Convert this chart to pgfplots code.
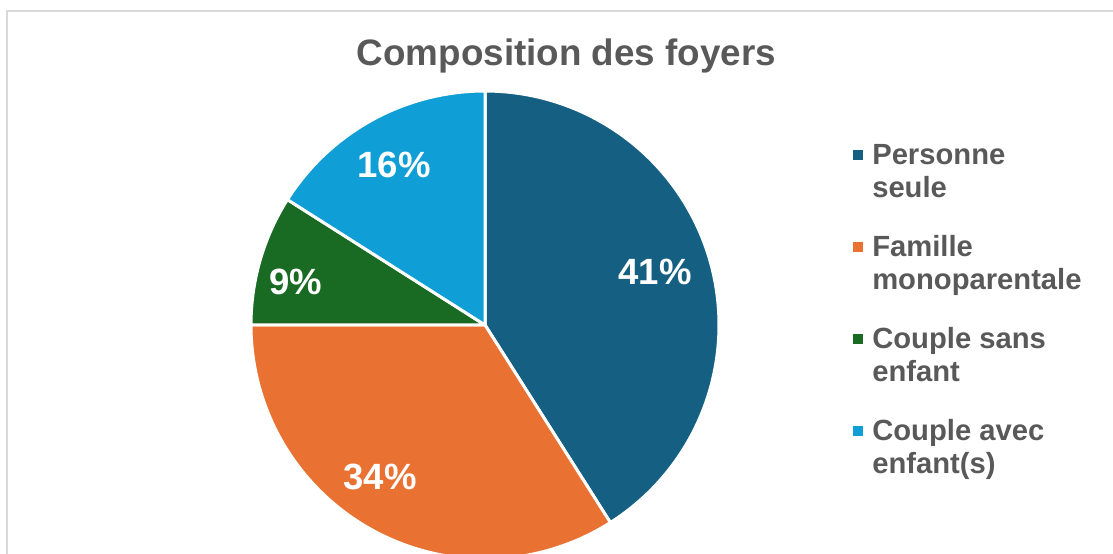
\documentclass[border=0pt]{standalone}
\usepackage{fontspec}
\setmainfont{Liberation Sans}
\usepackage{pgfplots}
\usepackage{pgfplotstable}
\pgfplotsset{compat=1.18}
\definecolor{c0}{HTML}{156082}
\definecolor{c1}{HTML}{E97132}
\definecolor{c2}{HTML}{196B24}
\definecolor{c3}{HTML}{0F9ED5}
\definecolor{txt}{HTML}{595959}
\definecolor{frame}{HTML}{D9D9D9}

% value = share in %, lx/ly = label position (pixel coordinates, y upward)
\pgfplotstableread{
value lx ly
41 655 281
34 380 76
9 296 271
16 394 388
}\piedata

\begin{document}
\begin{tikzpicture}
\begin{axis}[
  width=834.75pt, height=414.75pt, scale only axis,
  xmin=0, xmax=1113, ymin=0, ymax=553,
  hide axis, clip=true,
  legend cell align=left,
  legend image code/.code={\fill[#1,draw=none] (0pt,-4.4pt) rectangle (7.5pt,3.1pt);},
  legend style={at={(axis cs:853,412)}, anchor=north west, draw=none, fill=none,
    inner sep=0pt, column sep=6.75pt, row sep=50.2pt,
    font=\fontsize{21.9}{24.75}\selectfont\bfseries, text=txt,
    nodes={inner sep=0pt}},
]
\def\cum{0}
\pgfplotsforeachungrouped \i in {0,...,3}{
  \pgfplotstablegetelem{\i}{value}\of\piedata
  \let\val\pgfplotsretval
  \pgfmathsetmacro\aS{90-3.6*\cum}
  \pgfmathsetmacro\cum{\cum+\val}
  \pgfmathsetmacro\aE{90-3.6*\cum}
  \edef\tmp{\noexpand\addplot[fill=c\i, draw=white, line width=2.25pt, line join=round,
     domain=\aE:\aS, samples=90, variable=\noexpand\t]
     ({485+234*cos(\noexpand\t)},{228+234*sin(\noexpand\t)}) -- (axis cs:485,228) -- cycle;}
  \tmp
}
\legend{{\begin{tabular}[t]{@{}l@{}}Personne\\seule\end{tabular}},
        {\begin{tabular}[t]{@{}l@{}}Famille\\monoparentale\end{tabular}},
        {\begin{tabular}[t]{@{}l@{}}Couple sans\\enfant\end{tabular}},
        {\begin{tabular}[t]{@{}l@{}}Couple avec\\enfant(s)\end{tabular}}}
\pgfplotsforeachungrouped \i in {0,...,3}{
  \pgfplotstablegetelem{\i}{value}\of\piedata \let\val\pgfplotsretval
  \pgfplotstablegetelem{\i}{lx}\of\piedata \let\lx\pgfplotsretval
  \pgfplotstablegetelem{\i}{ly}\of\piedata \let\ly\pgfplotsretval
  \edef\tmp{\noexpand\node[text=white, inner sep=0pt, font=\noexpand\fontsize{27.4}{30}\noexpand\selectfont\noexpand\bfseries] at (axis cs:\lx,\ly) {\val\noexpand\%};}
  \tmp
}
\node[anchor=base, text=txt, inner sep=0pt, font=\fontsize{27.6}{30}\selectfont\bfseries] at (axis cs:566.5,487) {Composition des foyers};
\draw[frame, line width=1.5pt] (axis cs:6.5,-20) -- (axis cs:6.5,541.5) -- (axis cs:1130,541.5);
\coordinate (BL) at (rel axis cs:0,0);
\coordinate (TR) at (rel axis cs:1,1);
\end{axis}
\pgfresetboundingbox
\path[use as bounding box] (BL) rectangle (TR);
\end{tikzpicture}
\end{document}
